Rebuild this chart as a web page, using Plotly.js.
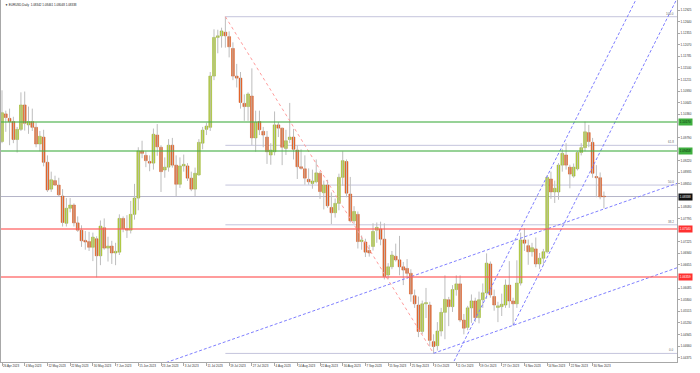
<!DOCTYPE html>
<html><head><meta charset="utf-8">
<script src="https://cdn.plot.ly/plotly-3.0.1.min.js"></script>
<style>html,body{margin:0;padding:0;background:#fff}#chart{width:700px;height:373px}</style>
</head><body><div id="chart"></div>
<script>
// ---------- DATA ----------
const symbolTitle = "EURUSD,Daily";
const xTickLabels = ["26 Apr 2023","4 May 2023","12 May 2023","22 May 2023","30 May 2023","7 Jun 2023","15 Jun 2023","23 Jun 2023","3 Jul 2023","11 Jul 2023","19 Jul 2023","27 Jul 2023","4 Aug 2023","14 Aug 2023","22 Aug 2023","30 Aug 2023","7 Sep 2023","15 Sep 2023","25 Sep 2023","3 Oct 2023","11 Oct 2023","19 Oct 2023","27 Oct 2023","6 Nov 2023","14 Nov 2023","22 Nov 2023","30 Nov 2023"];
const barsPerXLabel = 6;
const yTickLabels = ["1.12925","1.12640","1.12355","1.12070","1.11785","1.11500","1.11215","1.10930","1.10645","1.10360","1.10075","1.09790","1.09505","1.09220","1.08935","1.08650","1.08365","1.08080","1.07795","1.07510","1.07225","1.06940","1.06655","1.06370","1.06085","1.05800","1.05515","1.05230","1.04945","1.04660","1.04375"];

const opens = [1.0969,1.1037,1.1026,1.1018,1.0974,1.0999,1.1059,1.1010,1.1018,1.1004,
1.0963,1.0980,1.0918,1.0852,1.0873,1.0862,1.0835,1.0768,1.0805,1.0813,
1.0769,1.0751,1.0726,1.0723,1.0709,1.0730,1.0688,1.0757,1.0707,1.0712,
1.0695,1.0697,1.0780,1.0755,1.0751,1.0790,1.0830,1.0946,1.0935,1.0920,
1.0916,1.0985,1.0955,1.0899,1.0906,1.0960,1.0911,1.0864,1.0909,1.0909,
1.0879,1.0852,1.0887,1.0965,1.0999,1.1004,1.1130,1.1225,1.1229,1.1238,
1.1227,1.1198,1.1130,1.1125,1.1063,1.1055,1.1081,1.0978,1.1018,1.0994,
1.0980,1.0936,1.0944,1.1010,1.1002,1.0952,1.0974,1.0980,1.0948,1.0907,
1.0902,1.0876,1.0866,1.0870,1.0891,1.0843,1.0862,1.0807,1.0794,1.0817,
1.0881,1.0920,1.0840,1.0774,1.0790,1.0723,1.0722,1.0701,1.0711,1.0751,
1.0754,1.0729,1.0641,1.0661,1.0687,1.0678,1.0661,1.0657,1.0645,1.0590,
1.0567,1.0502,1.0570,1.0567,1.0477,1.0467,1.0503,1.0549,1.0580,1.0563,
1.0605,1.0619,1.0530,1.0512,1.0560,1.0577,1.0536,1.0580,1.0597,1.0668,
1.0588,1.0561,1.0563,1.0567,1.0616,1.0577,1.0570,1.0621,1.0727,1.0713,
1.0698,1.0705,1.0668,1.0682,1.0698,1.0877,1.0845,1.0845,1.0911,1.0936,
1.0906,1.0884,1.0902,1.0942,1.0954,1.0991,1.0967,1.0883,1.0880,1.08342];
const highs = [1.1095,1.1045,1.1050,1.1030,1.1005,1.1090,1.1092,1.1055,1.1050,1.1016,
1.0995,1.0998,1.0935,1.0895,1.0885,1.0880,1.0852,1.0830,1.0830,1.0817,
1.0785,1.0763,1.0749,1.0747,1.0745,1.0736,1.0775,1.0780,1.0735,1.0725,
1.0720,1.0790,1.0785,1.0788,1.0823,1.0865,1.0955,1.0971,1.0945,1.0935,
1.1001,1.1012,1.0960,1.0930,1.0975,1.0978,1.0935,1.0930,1.0937,1.0916,
1.0895,1.0905,1.0975,1.1005,1.1015,1.1140,1.1245,1.1244,1.1249,1.1276,
1.1240,1.1213,1.1160,1.1140,1.1085,1.1090,1.1149,1.1045,1.1045,1.1005,
1.0995,1.0965,1.1043,1.1017,1.1003,1.0998,1.1064,1.1000,1.0960,1.0950,
1.0935,1.0903,1.0900,1.0925,1.0896,1.0873,1.0875,1.0844,1.0829,1.0890,
1.0945,1.0925,1.0882,1.0810,1.0797,1.0738,1.0730,1.0715,1.0768,1.0770,
1.0772,1.0768,1.0670,1.0700,1.0718,1.0737,1.0673,1.0680,1.0655,1.0605,
1.0588,1.0578,1.0609,1.0575,1.0495,1.0525,1.0560,1.0640,1.0587,1.0616,
1.0640,1.0640,1.0545,1.0565,1.0593,1.0585,1.0600,1.0620,1.0694,1.0674,
1.0605,1.0575,1.0595,1.0630,1.0675,1.0585,1.0677,1.0745,1.0756,1.0728,
1.0720,1.0733,1.0695,1.0705,1.0886,1.0895,1.0873,1.0916,1.0950,1.0965,
1.0912,1.0915,1.0945,1.0965,1.1018,1.1010,1.0978,1.0911,1.0893,1.08461];
const lows = [1.0965,1.0993,1.0960,1.0965,1.0942,1.0995,1.0996,1.0988,1.0995,1.0955,
1.0945,1.0908,1.0845,1.0845,1.0860,1.0835,1.0760,1.0760,1.0795,1.0760,
1.0747,1.0710,1.0703,1.0700,1.0675,1.0635,1.0665,1.0703,1.0674,1.0668,
1.0665,1.0690,1.0746,1.0732,1.0743,1.0777,1.0800,1.0928,1.0906,1.0896,
1.0900,1.0934,1.0845,1.0880,1.0895,1.0905,1.0835,1.0855,1.0895,1.0872,
1.0847,1.0835,1.0885,1.0950,1.0985,1.0995,1.1120,1.1186,1.1200,1.1200,
1.1176,1.1120,1.1102,1.1050,1.1020,1.1020,1.0960,1.0944,1.0985,1.0955,
1.0914,1.0912,1.0935,1.0980,1.0911,1.0936,1.0965,1.0925,1.0877,1.0900,
1.0863,1.0863,1.0853,1.0866,1.0828,1.0802,1.0806,1.0766,1.0782,1.0800,
1.0860,1.0832,1.0770,1.0767,1.0706,1.0703,1.0685,1.0686,1.0701,1.0720,
1.0714,1.0630,1.0631,1.0655,1.0674,1.0640,1.0616,1.0632,1.0575,1.0560,
1.0488,1.0495,1.0535,1.0465,1.0448,1.0455,1.0490,1.0483,1.0515,1.0550,
1.0590,1.0525,1.0495,1.0505,1.0523,1.0525,1.0522,1.0560,1.0582,1.0585,
1.0553,1.0525,1.0540,1.0560,1.0560,1.0517,1.0560,1.0615,1.0700,1.0666,
1.0686,1.0660,1.0656,1.0665,1.0694,1.0828,1.0818,1.0826,1.0895,1.0900,
1.0854,1.0880,1.0898,1.0935,1.0945,1.0955,1.0880,1.0832,1.0827,1.08048];
const closes = [1.1040,1.1028,1.1018,1.0974,1.0999,1.1059,1.1014,1.1018,1.1004,1.0963,
1.0982,1.0918,1.0850,1.0875,1.0862,1.0838,1.0770,1.0805,1.0813,1.0769,
1.0751,1.0725,1.0722,1.0709,1.0734,1.0688,1.0761,1.0707,1.0712,1.0695,
1.0699,1.0780,1.0755,1.0751,1.0790,1.0830,1.0946,1.0940,1.0922,1.0916,
1.0987,1.0956,1.0895,1.0906,1.0960,1.0911,1.0864,1.0909,1.0913,1.0879,
1.0852,1.0891,1.0967,1.0997,1.1007,1.1130,1.1225,1.1229,1.1241,1.1229,
1.1202,1.1130,1.1125,1.1065,1.1055,1.1086,1.0978,1.1016,1.0998,1.0985,
1.0944,1.0948,1.1010,1.1002,1.0955,1.0971,1.0980,1.0950,1.0907,1.0903,
1.0879,1.0870,1.0872,1.0892,1.0846,1.0862,1.0811,1.0794,1.0817,1.0881,
1.0922,1.0842,1.0774,1.0797,1.0723,1.0727,1.0697,1.0695,1.0748,1.0758,
1.0729,1.0637,1.0661,1.0690,1.0678,1.0661,1.0653,1.0645,1.0594,1.0570,
1.0502,1.0570,1.0573,1.0480,1.0465,1.0503,1.0549,1.0581,1.0563,1.0605,
1.0619,1.0530,1.0510,1.0560,1.0577,1.0536,1.0580,1.0597,1.0670,1.0592,
1.0567,1.0565,1.0569,1.0616,1.0577,1.0570,1.0621,1.0727,1.0719,1.0698,
1.0708,1.0668,1.0682,1.0698,1.0881,1.0845,1.0854,1.0911,1.0940,1.0911,
1.0889,1.0906,1.0942,1.0954,1.0993,1.0969,1.0891,1.0880,1.0833,1.08338];

// horizontal levels
const resistanceLevels = [1.10170, 1.09458];
const supportLevels = [1.07540, 1.06359];
// fibonacci retracement (swing high bar -> swing low bar)
const fibHighIdx = 59, fibLowIdx = 114;
const fibLevels = [0, 38.2, 50, 61.8, 100];
const fibLabels = ["0.0","38.2","50.0","61.8","100.0"];
// trend / channel lines: anchor [barIndex, price]
const chanLowerAnchors = [[114, 1.04483],[135, 1.05170]];   // ray to the right
const chanUpperAnchors = [[86.7, 1.05671],[177.8, 1.08646]]; // extended
const steepLowerAnchors = [[135, 1.05170],[170, 1.11665]];  // ray to the right
const steepUpperAnchors = [[144, 1.08840],[170, 1.13650]];  // extended

// ---------- BUILD ----------
const n = opens.length;
const idx = opens.map((_, i) => i);
const X0 = -0.264, X1 = 178.3, Y0 = 1.04269, Y1 = 1.13171;
const FS = 3;

const wx = [], wy = [];
for (let i = 0; i < n; i++) { wx.push(i, i, null); wy.push(lows[i], highs[i], null); }
const minBody = 0.00018;
const bodyBase = [], bodyH = [], bodyCol = [], bodyLine = [];
for (let i = 0; i < n; i++) {
  const up = closes[i] >= opens[i];
  const lo = Math.min(opens[i], closes[i]);
  const h = Math.abs(closes[i] - opens[i]);
  const hh = Math.max(h, minBody);
  bodyBase.push(lo - (hh - h) / 2);
  bodyH.push(hh);
  bodyCol.push(up ? '#b4d22c' : '#ec5f1e');
  bodyLine.push(up ? '#8ca81c' : '#c94c16');
}

function lineThrough(a, extendLeft) {
  const [x1, y1] = a[0], [x2, y2] = a[1];
  const s = (y2 - y1) / (x2 - x1);
  const xa = extendLeft ? X0 - 5 : x1, xb = X1 + 5;
  return { x: [xa, xb], y: [y1 + s * (xa - x1), y1 + s * (xb - x1)] };
}
const blue = '#7f7fff';
const traces = [];
traces.push({ type: 'scatter', mode: 'lines', x: wx, y: wy, line: { color: '#bdbdbd', width: 1 }, hoverinfo: 'skip' });
traces.push({ type: 'bar', x: idx, y: bodyH, base: bodyBase, width: 0.74,
  marker: { color: bodyCol, line: { color: bodyLine, width: 0.5 } }, hoverinfo: 'skip' });
[[chanLowerAnchors, false], [chanUpperAnchors, true], [steepLowerAnchors, false], [steepUpperAnchors, true]].forEach(([a, ext]) => {
  const L = lineThrough(a, ext);
  traces.push({ type: 'scatter', mode: 'lines', x: L.x, y: L.y, line: { color: blue, width: 1, dash: '3px,2px' }, hoverinfo: 'skip' });
});
const fibHigh = highs[fibHighIdx], fibLow = lows[fibLowIdx];
traces.push({ type: 'scatter', mode: 'lines', x: [fibHighIdx, fibLowIdx], y: [fibHigh, fibLow],
  line: { color: '#ff9c9c', width: 1, dash: 'dot' }, hoverinfo: 'skip' });

const shapes = [], annotations = [];
const fibPrices = fibLevels.map(l => fibLow + l / 100 * (fibHigh - fibLow));
fibPrices.forEach((p, k) => {
  shapes.push({ type: 'line', xref: 'x', yref: 'y', x0: fibHighIdx, x1: X1, y0: p, y1: p, line: { color: '#c4c4dc', width: 1 }, layer: 'below' });
  annotations.push({ xref: 'paper', yref: 'y', x: 1, y: p, xanchor: 'right', yanchor: 'bottom', xshift: -1, yshift: -1,
    text: fibLabels[k], showarrow: false, font: { size: FS, color: '#666' } });
});
const lastClose = closes[n - 1];
shapes.push({ type: 'line', xref: 'paper', yref: 'y', x0: 0, x1: 1, y0: lastClose, y1: lastClose, line: { color: '#b4b4c8', width: 1 }, layer: 'below' });
resistanceLevels.forEach(p => shapes.push({ type: 'line', xref: 'paper', yref: 'y', x0: 0, x1: 1, y0: p, y1: p, line: { color: 'rgba(70,175,70,0.75)', width: 1.6 } }));
supportLevels.forEach(p => shapes.push({ type: 'line', xref: 'paper', yref: 'y', x0: 0, x1: 1, y0: p, y1: p, line: { color: 'rgba(255,90,90,0.8)', width: 1.4 } }));

const boxPrices = [];
function priceBox(p, bg, fg) {
  boxPrices.push(p);
  annotations.push({ xref: 'paper', yref: 'y', x: 1, y: p, xanchor: 'left', yanchor: 'middle', xshift: 1,
    text: p.toFixed(5), showarrow: false, bgcolor: bg, borderpad: 0.8, font: { size: FS, color: fg } });
}
resistanceLevels.forEach(p => priceBox(p, '#3fae3f', '#0a2a0a'));
supportLevels.forEach(p => priceBox(p, '#ff3030', '#ffffff'));
priceBox(lastClose, '#111111', '#ffffff');

// tick labels hidden behind the price boxes are not shown (as in the terminal)
const yTicksShown = yTickLabels.filter(t => boxPrices.every(p => Math.abs(parseFloat(t) - p) > 0.0011));

annotations.push({ xref: 'paper', yref: 'paper', x: 0, y: 1, xanchor: 'left', yanchor: 'top', xshift: 2, yshift: -1,
  text: '▼ ' + symbolTitle + '  ' + [opens[n-1], highs[n-1], lows[n-1], closes[n-1]].map(v => v.toFixed(5)).join(' '),
  showarrow: false, font: { size: FS, color: '#222' } });

const layout = {
  width: 700, height: 373, margin: { l: 1, r: 23, t: 0, b: 11 },
  paper_bgcolor: '#ffffff', plot_bgcolor: '#ffffff', showlegend: false,
  font: { family: 'Liberation Sans, Arial, sans-serif', size: FS, color: '#333' },
  xaxis: { range: [X0, X1], showgrid: false, zeroline: false, showline: true, linecolor: '#a8a8a8', linewidth: 1,
    ticks: 'outside', ticklen: 3, tickcolor: '#a8a8a8', tickwidth: 1, tickangle: 0, automargin: false,
    tickvals: xTickLabels.map((_, k) => k * barsPerXLabel), ticktext: xTickLabels,
    ticklabelposition: 'outside right', tickfont: { size: FS, color: '#333' }, fixedrange: true },
  yaxis: { side: 'right', range: [Y0, Y1], showgrid: false, zeroline: false, showline: true, mirror: true,
    linecolor: '#a8a8a8', linewidth: 1, ticks: 'outside', ticklen: 2, tickcolor: '#a8a8a8', automargin: false,
    tickvals: yTicksShown.map(parseFloat), ticktext: yTicksShown, tickfont: { size: FS, color: '#333' }, fixedrange: true },
  shapes, annotations
};
Plotly.newPlot('chart', traces, layout, { staticPlot: true, displayModeBar: false });
</script>
</body></html>
